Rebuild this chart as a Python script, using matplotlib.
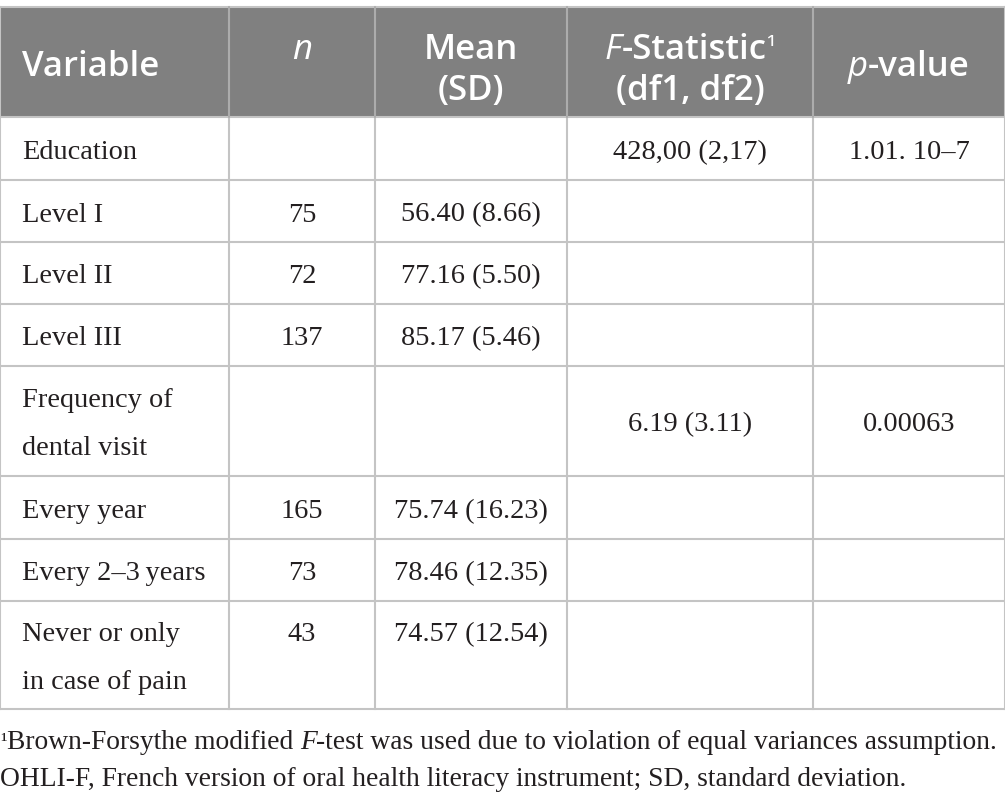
import matplotlib.pyplot as plt
from matplotlib.patches import Rectangle

# table content
variables = ['Education', 'Level I', 'Level II', 'Level III',
             'Frequency of\ndental visit', 'Every year', 'Every 2\u20133\u2009years',
             'Never or only\nin case of pain']
n_vals = ['', '75', '72', '137', '', '165', '73', '43']
means = ['', '56.40 (8.66)', '77.16 (5.50)', '85.17 (5.46)', '',
         '75.74 (16.23)', '78.46 (12.35)', '74.57 (12.54)']
f_stats = ['428,00 (2,17)', '', '', '', '6.19 (3.11)', '', '', '']
p_vals = ['1.01. 10\u20137', '', '', '', '0.00063', '', '', '']
footnote1 = 'Brown-Forsythe modified '
footnote1b = '-test was used due to violation of equal variances assumption.'
footnote2 = 'OHLI-F, French version of oral health literacy instrument; SD, standard deviation.'

col_x = [0, 229, 375, 567, 813, 1005]
row_y = [118, 181, 243, 305, 367, 477, 540, 602, 710]
head_top = 8
grey = '#808080'
line_c = '#c4c4c4'
serif = ['Liberation Serif', 'DejaVu Serif']
sans = ['Open Sans', 'DejaVu Sans']
body_fs = 20.4
head_fs = 25
foot_fs = 19.8

fig = plt.figure(figsize=(10.05, 8.04), dpi=100)
ax = fig.add_axes([0, 0, 1, 1])
ax.set_xlim(0, 1005)
ax.set_ylim(804, 0)
ax.axis('off')

# header band
ax.add_patch(Rectangle((0, head_top), 1005, row_y[0] - head_top, facecolor=grey, edgecolor='none'))
ax.plot([0, 1005], [head_top, head_top], color=line_c, lw=1.5)

# grid lines
for y in row_y:
    ax.plot([0, 1005], [y, y], color=line_c, lw=1.5)
for x in col_x:
    ax.plot([x, x], [head_top, row_y[-1]], color=line_c, lw=1.5)
for x in col_x[1:-1]:
    ax.plot([x, x], [head_top, row_y[0]], color='#a8a8a8', lw=1.2)

renderer = fig.canvas.get_renderer()


def pieces(x, y, parts, ha='left', **kw):
    # draw a row of text pieces with different styles, side by side
    objs = []
    for s, style in parts:
        t = ax.text(0, y, s, va='center', **style, **kw)
        objs.append(t)
    widths = []
    for t in objs:
        bb = t.get_window_extent(renderer)
        widths.append(bb.width)
    total = sum(widths)
    cur = x - total / 2 if ha == 'center' else x
    for t, w in zip(objs, widths):
        t.set_x(cur)
        cur += w
    return objs


hs = dict(color='white', fontsize=head_fs, family=sans)
ax.text(22, 67, 'Variable', va='center', ha='left', fontweight='semibold', **hs)
ax.text(302, 50, 'n', va='center', ha='center', fontstyle='italic', **hs)
ax.text(471, 50, 'Mean', va='center', ha='center', fontweight='semibold', **hs)
ax.text(471, 91, '(SD)', va='center', ha='center', fontweight='semibold', **hs)
pieces(690, 50, [('F', dict(fontstyle='italic', fontsize=head_fs)),
                 ('-Statistic', dict(fontweight='semibold', fontsize=head_fs)),
                 ('\u00b9', dict(fontsize=head_fs * 0.75))], ha='center',
       color='white', family=sans)
ax.text(690, 91, '(df1, df2)', va='center', ha='center', fontweight='semibold', **hs)
pieces(909, 67, [('p', dict(fontstyle='italic', fontsize=head_fs)),
                 ('-value', dict(fontweight='semibold', fontsize=head_fs))],
       ha='center', color='white', family=sans)

bs = dict(color='#231f20', fontsize=body_fs, family=serif, va='center')
for i in range(len(variables)):
    yc = (row_y[i] + row_y[i + 1]) / 2 + 3
    if '\n' in variables[i]:
        a, b = variables[i].split('\n')
        ax.text(22, yc - 24, a, ha='left', **bs)
        ax.text(22, yc + 24, b, ha='left', **bs)
        yv = yc - 24 if variables[i].startswith('Never') else yc
    else:
        ax.text(22, yc, variables[i], ha='left', **bs)
        yv = yc
    vals = [n_vals[i], means[i], f_stats[i], p_vals[i]]
    for j, v in enumerate(vals):
        if v:
            ax.text((col_x[j + 1] + col_x[j + 2]) / 2, yv, v, ha='center', **bs)

fs = dict(color='#231f20', family=serif)
pieces(0, 743, [('\u00b9', dict(fontsize=foot_fs * 0.8)), (footnote1, dict(fontsize=foot_fs)),
                ('F', dict(fontstyle='italic', fontsize=foot_fs)),
                (footnote1b, dict(fontsize=foot_fs))], **fs)
ax.text(0, 780, footnote2, va='center', ha='left', fontsize=foot_fs, **fs)

fig.savefig('out.png', dpi=100)
